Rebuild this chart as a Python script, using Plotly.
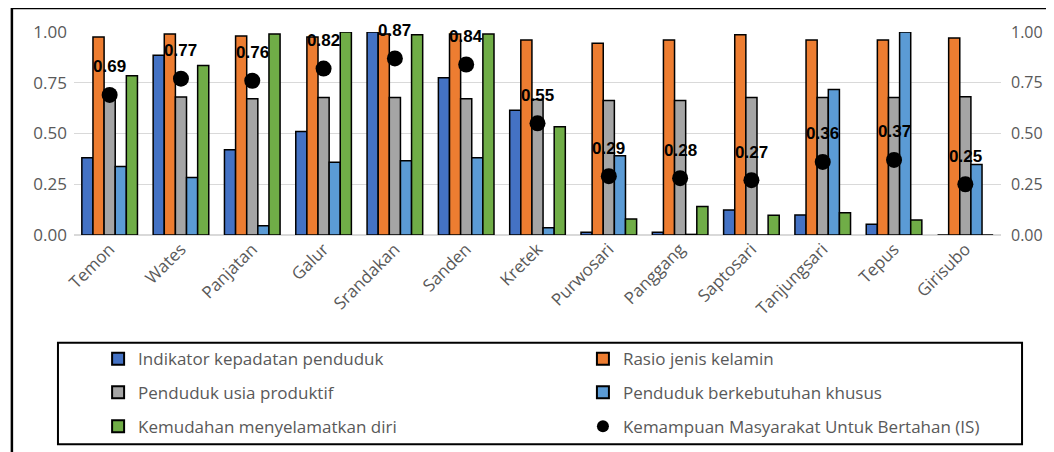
import plotly.graph_objects as go

categories = ["Temon", "Wates", "Panjatan", "Galur", "Srandakan", "Sanden", "Kretek",
              "Purwosari", "Panggang", "Saptosari", "Tanjungsari", "Tepus", "Girisubo"]

kepadatan = [0.38, 0.885, 0.42, 0.51, 1.00, 0.775, 0.615, 0.013, 0.013, 0.123, 0.099, 0.053, 0.0]
rasio = [0.975, 0.99, 0.98, 0.975, 0.99, 0.99, 0.96, 0.945, 0.96, 0.987, 0.96, 0.96, 0.97]
usia_produktif = [0.67, 0.68, 0.671, 0.677, 0.677, 0.671, 0.668, 0.663, 0.663, 0.677, 0.677, 0.677, 0.681]
berkebutuhan = [0.337, 0.283, 0.046, 0.358, 0.366, 0.381, 0.036, 0.391, 0.003, 0.0, 0.717, 1.00, 0.347]
kemudahan = [0.784, 0.835, 0.99, 1.00, 0.987, 0.99, 0.533, 0.079, 0.14, 0.097, 0.11, 0.074, 0.0]
kemampuan = [0.69, 0.77, 0.76, 0.82, 0.87, 0.84, 0.55, 0.29, 0.28, 0.27, 0.36, 0.37, 0.25]

series_names = ["Indikator kepadatan penduduk", "Rasio jenis kelamin",
                "Penduduk usia produktif", "Penduduk berkebutuhan khusus",
                "Kemudahan menyelamatkan diri", "Kemampuan Masyarakat Untuk Bertahan (IS)"]
colors = ["#4472C4", "#ED7D31", "#A5A5A5", "#5B9BD5", "#70AD47"]
legend_ids = ["legend", "legend2", "legend3", "legend4", "legend5", "legend6"]

FONT = "Open Sans"
GRAY = "#595959"

fig = go.Figure()
for name, vals, col, lg in zip(series_names[:5],
                               [kepadatan, rasio, usia_produktif, berkebutuhan, kemudahan],
                               colors, legend_ids[:5]):
    fig.add_trace(go.Bar(x=categories, y=vals, name=name, legend=lg,
                         marker=dict(color=col, line=dict(color="black", width=1.5))))

fig.add_trace(go.Scatter(x=categories, y=kemampuan, name=series_names[5], legend=legend_ids[5],
                         mode="markers", yaxis="y2", cliponaxis=False,
                         marker=dict(color="black", size=16, symbol="circle")))

for c, v in zip(categories, kemampuan):
    fig.add_annotation(x=c, y=v, yref="y2", text="<b>%.2f</b>" % v, showarrow=False,
                       yshift=28, font=dict(family="Liberation Sans", size=17, color="black"))

# outer chart border and legend box
fig.add_shape(type="rect", xref="paper", yref="paper", x0=-0.067, x1=1.07, y0=-1.2, y1=1.118,
              line=dict(color="black", width=2.5), layer="above")
fig.add_shape(type="rect", xref="paper", yref="paper", x0=-0.0173, x1=1.0227, y0=-1.031, y1=-0.5305,
              line=dict(color="black", width=2))

leg_common = dict(orientation="h", xanchor="left", yanchor="middle",
                  bgcolor="rgba(0,0,0,0)", itemsizing="constant",
                  font=dict(family=FONT, size=17, color=GRAY))

col_x = [0.026, 0.549]
row_y = [-0.612, -0.777, -0.944]
legends = {}
for i, lg in enumerate(legend_ids):
    legends[lg] = dict(x=col_x[i % 2], y=row_y[i // 2], **leg_common)

fig.update_layout(
    width=1054, height=452,
    margin=dict(l=66, r=61, t=24, b=225, autoexpand=False),
    paper_bgcolor="white", plot_bgcolor="white",
    barmode="group", bargap=0.22, bargroupgap=0,
    showlegend=True,
    xaxis=dict(range=[-0.5, 12.5], tickangle=-45, tickfont=dict(family=FONT, size=17, color=GRAY),
               showgrid=False, showline=False, ticks=""),
    yaxis=dict(range=[0, 1], tickvals=[0, 0.25, 0.5, 0.75, 1.0], tickformat=".2f",
               tickfont=dict(family=FONT, size=17, color=GRAY), gridcolor="#D9D9D9",
               gridwidth=1, zeroline=True, zerolinecolor="#D9D9D9", showline=False, ticklen=0,
               ticklabelstandoff=6),
    yaxis2=dict(range=[0, 1], tickvals=[0, 0.25, 0.5, 0.75, 1.0], tickformat=".2f",
                overlaying="y", side="right", showgrid=False, zeroline=False,
                ticklabelstandoff=9,
                tickfont=dict(family=FONT, size=16, color=GRAY)),
    **legends,
)

fig.write_html("out.html")
